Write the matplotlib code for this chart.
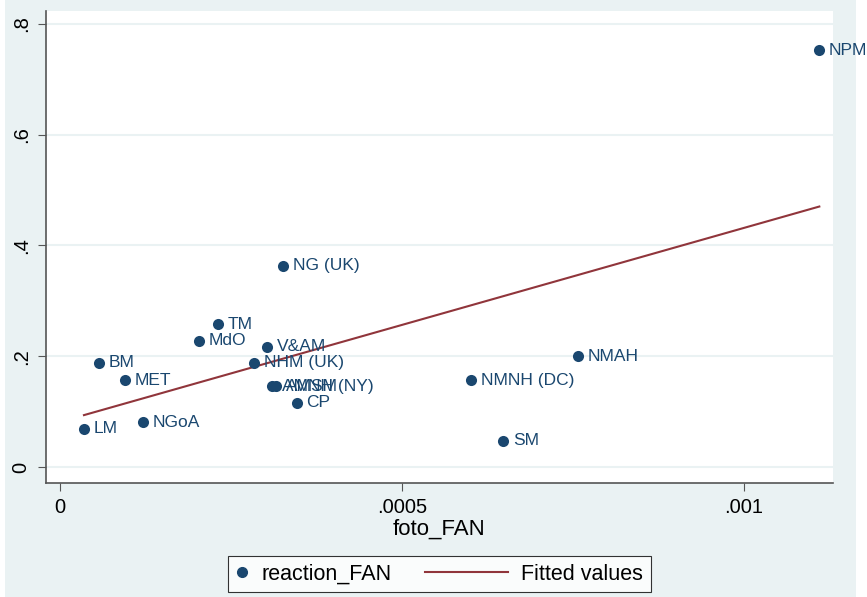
import numpy as np
import matplotlib
matplotlib.use("Agg")
from matplotlib import pyplot as plt
from matplotlib.patches import Rectangle
from matplotlib.lines import Line2D
from matplotlib.legend_handler import HandlerBase

# данные
museums = ['NPM', 'NG (UK)', 'TM', 'MdO', 'V&AM', 'NHM (UK)', 'BM', 'MET',
           'AMNH (NY)', 'AMSM', 'CP', 'NGoA', 'LM', 'NMNH (DC)', 'NMAH', 'SM']
foto_fan = [0.00111, 0.000326, 0.000231, 0.000203, 0.000303, 0.000284, 0.000057, 0.000095,
            0.000310, 0.000316, 0.000346, 0.000121, 0.000035, 0.000601, 0.000757, 0.000648]
reaction_fan = [0.753, 0.363, 0.258, 0.228, 0.217, 0.188, 0.188, 0.157,
                0.146, 0.146, 0.116, 0.081, 0.069, 0.157, 0.200, 0.047]

y_ticks = [0, 0.2, 0.4, 0.6, 0.8]
y_tick_labels = ['0', '.2', '.4', '.6', '.8']
x_ticks = [0, 0.0005, 0.001]
x_tick_labels = ['0', '.0005', '.001']

navy = '#1A476F'
maroon = '#90353B'
bg = '#EAF2F3'


# линия в легенде длиннее, чем место под маркер, рисуем её влево от текста
class LongLine(HandlerBase):
    def create_artists(self, legend, orig_handle, xdescent, ydescent,
                       width, height, fontsize, trans):
        y0 = height / 2 - ydescent
        x1 = width - xdescent
        ln = Line2D([x1 - 60, x1], [y0, y0], color=orig_handle.get_color(),
                    lw=orig_handle.get_linewidth(), transform=trans)
        return [ln]


plt.rcParams['font.family'] = ['Liberation Sans', 'DejaVu Sans']

fig = plt.figure(figsize=(8.67, 5.97), dpi=100)
fig.patch.set_facecolor('white')
# серый фон как в stata
fig.patches.append(Rectangle((5 / 867, 0.0), 851 / 867, 1.0, transform=fig.transFigure,
                             facecolor=bg, edgecolor='none', zorder=-10))

ax = fig.add_axes([46 / 867, 1 - 483 / 597, 787 / 867, 472 / 597])
ax.set_facecolor('white')

x = np.array(foto_fan)
y = np.array(reaction_fan)

# линейная регрессия
k, b = np.polyfit(x, y, 1)
xs = np.array([x.min(), x.max()])
ax.plot(xs, k * xs + b, color=maroon, lw=1.5, zorder=3)

ax.scatter(x, y, s=64, color=navy, zorder=4, linewidths=0)
for name, xi, yi in zip(museums, x, y):
    ax.annotate(name, (xi, yi), xytext=(7, 0), textcoords='offset points',
                va='center', ha='left', color=navy, fontsize=12.5, zorder=5,
                annotation_clip=False)

ax.set_xlim(-0.0000205, 0.00113)
ax.set_ylim(-0.029, 0.8235)

ax.set_yticks(y_ticks)
ax.set_yticklabels(y_tick_labels, rotation=90, va='center')
ax.set_xticks(x_ticks)
ax.set_xticklabels(x_tick_labels)
ax.tick_params(labelsize=14.5, length=6, color='#555555', pad=5)
ax.yaxis.grid(True, color=bg, lw=1.5)
ax.set_axisbelow(True)

for s in ['top', 'right']:
    ax.spines[s].set_visible(False)
for s in ['left', 'bottom']:
    ax.spines[s].set_color('#555555')
    ax.spines[s].set_linewidth(1.2)

ax.set_xlabel('foto_FAN', fontsize=16, labelpad=1)

dot = Line2D([], [], marker='o', ls='none', color=navy, markersize=7)
fit = Line2D([], [], color=maroon, lw=1.5)
leg = fig.legend([dot, fit], ['reaction_FAN', 'Fitted values'], ncol=2, loc='center',
                 bbox_to_anchor=(439.5 / 867, 1 - 574 / 597), fontsize=15.5,
                 frameon=True, fancybox=False, edgecolor='black',
                 handlelength=0.6, handletextpad=0.6, columnspacing=4.8,
                 borderpad=0.35, handler_map={fit: LongLine()})
leg.get_frame().set_linewidth(0.8)

fig.savefig('out.png', dpi=100, facecolor=fig.get_facecolor())
